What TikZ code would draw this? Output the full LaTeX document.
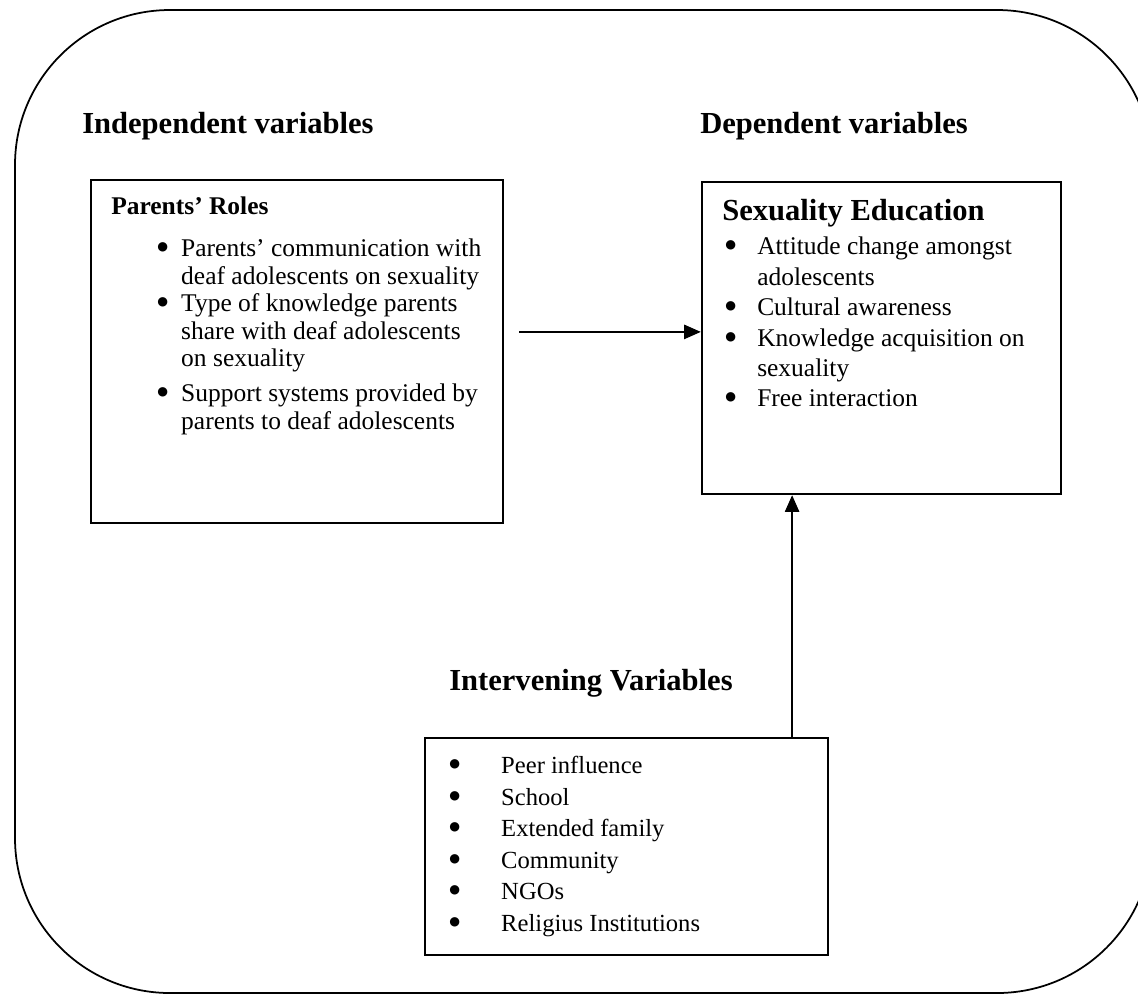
\documentclass[tikz,border=0pt]{standalone}
\usepackage{fontspec}
\setmainfont{Liberation Serif}
\newfontfamily\symfont{DejaVu Sans}
\usetikzlibrary{arrows.meta,positioning,calc}

\newcommand{\bul}{\raisebox{3.4pt}{\symfont\fontsize{7}{7}\selectfont ●}}

\begin{document}
\begin{tikzpicture}[
    x=0.02cm, y=-0.02cm,
    panel/.style={rectangle, draw=black, line width=1.3pt, inner sep=0pt},
    heading/.style={font=\fontsize{17.4}{20}\selectfont\bfseries, inner sep=0pt, anchor=base west},
    itemlist/.style={inner sep=0pt, anchor=base west, align=left},
    arrow/.style={-{Triangle[length=9.5pt,width=8pt]}, line width=1.3pt}
]
    \useasboundingbox (0,0) rectangle (1138,995);
    % outer frame
    \draw[line width=1pt, rounded corners=3.1cm] (15,10) rectangle (1152,993);

    % the three boxes
    \node[panel, minimum width=8.24cm, minimum height=6.86cm] (roles) at (297,351.5) {};
    \node[panel, minimum width=7.18cm, minimum height=6.24cm] (educ) at (881.5,338) {};
    \node[panel, minimum width=8.06cm, minimum height=4.34cm] (factors) at (626.5,846.5) {};

    % headings
    \node[heading] (indep) at ($(roles.north west)+(-8,-45)$) {Independent variables};
    \node[heading] (dep) at ($(educ.north west)+(-1,-47)$) {Dependent variables};
    \node[heading] (interv) at ($(factors.north west)+(25,-46)$) {Intervening Variables};

    % box contents
    \node[itemlist, font=\fontsize{14.5}{17}\selectfont\bfseries] (rolestitle)
        at ($(roles.north west)+(21,36)$) {Parents' Roles};
    \node[itemlist, font=\fontsize{14.5}{15.6}\selectfont] (roleslist)
        at ($(roles.north west)+(67,78)$) {%
        \begin{tabular}[t]{@{}p{0.48cm}@{}l@{}}
            \bul & Parents' communication with\\
                 & deaf adolescents on sexuality\\
            \bul & Type of knowledge parents\\
                 & share with deaf adolescents\\
                 & on sexuality\\[4.5pt]
            \bul & Support systems provided by\\
                 & parents to deaf adolescents
        \end{tabular}};

    \node[itemlist, font=\fontsize{17.4}{20}\selectfont\bfseries] (eductitle)
        at ($(educ.north west)+(21,40)$) {Sexuality Education};
    \node[itemlist, font=\fontsize{14.5}{17.3}\selectfont] (educlist)
        at ($(educ.north west)+(24,74)$) {%
        \begin{tabular}[t]{@{}p{0.64cm}@{}l@{}}
            \bul & Attitude change amongst\\
                 & adolescents\\
            \bul & Cultural awareness\\
            \bul & Knowledge acquisition on\\
                 & sexuality\\
            \bul & Free interaction
        \end{tabular}};

    \node[itemlist, font=\fontsize{14}{17.9}\selectfont] (factorlist)
        at ($(factors.north west)+(25,37)$) {%
        \begin{tabular}[t]{@{}p{1.04cm}@{}l@{}}
            \bul & Peer influence\\
            \bul & School\\
            \bul & Extended family\\
            \bul & Community\\
            \bul & NGOs\\
            \bul & Religius Institutions
        \end{tabular}};

    % connectors
    \coordinate (hlink) at ($(educ.north west)+(0,151)$);
    \draw[arrow] ($(roles.east |- hlink)+(15,0)$) -- (hlink);
    \coordinate (vlink) at ($(factors.north east)+(-37,0)$);
    \draw[arrow] (vlink) -- (vlink |- educ.south);
\end{tikzpicture}
\end{document}
